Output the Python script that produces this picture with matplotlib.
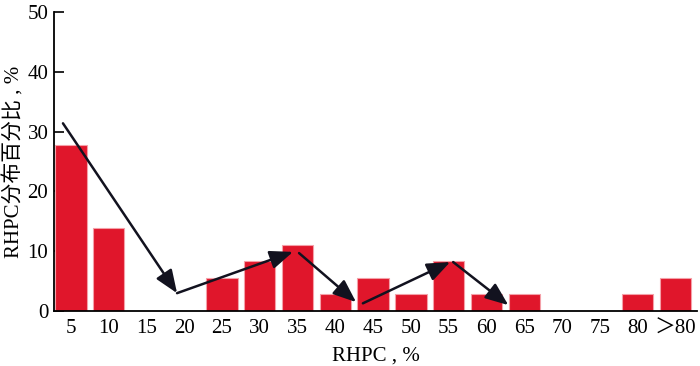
import matplotlib
matplotlib.use("Agg")
import matplotlib.pyplot as plt
import numpy as np

categories = ["5", "10", "15", "20", "25", "30", "35", "40", "45", "50",
              "55", "60", "65", "70", "75", "80", "＞80"]
counts = [10, 5, 0, 0, 2, 3, 4, 1, 2, 1, 3, 1, 1, 0, 0, 1, 2]
percent = [c / 36 * 100 for c in counts]

# trend arrows (x in category index, y in %)
arrows = [
    ((-0.21, 31.4), (2.81, 3.0)),
    ((2.81, 3.0), (5.88, 9.9)),
    ((6.04, 9.7), (7.55, 1.5)),
    ((7.73, 1.3), (10.04, 8.2)),
    ((10.12, 8.2), (11.58, 1.0)),
]

plt.rcParams['font.family'] = ['Liberation Serif', 'Noto Sans CJK SC']

fig = plt.figure(figsize=(7, 3.66), dpi=100)
ax = fig.add_axes([0.077, 0.150, 0.919, 0.817])

x = np.arange(len(categories))
ax.bar(x, percent, width=0.83, color='#e0162b', edgecolor='#f4a0a8', linewidth=0.8, zorder=2)

for (x0, y0), (x1, y1) in arrows:
    ax.annotate("", xy=(x1, y1), xytext=(x0, y0),
                arrowprops=dict(arrowstyle='-|>,head_length=1.0,head_width=0.4',
                                color='#12121f', lw=1.8, shrinkA=0, shrinkB=0,
                                mutation_scale=14), zorder=3)

ax.set_xlim(-0.45, 16.58)
ax.set_ylim(0, 50)
ax.set_xticks(x)
ax.set_xticklabels(categories)
ax.set_yticks([0, 10, 20, 30, 40, 50])
ax.tick_params(axis='x', length=0, labelsize=15, pad=6)
ax.tick_params(axis='y', direction='in', length=7, width=1.2, labelsize=15, pad=4)
for s in ['top', 'right']:
    ax.spines[s].set_visible(False)
ax.spines['left'].set_linewidth(1.3)
ax.spines['bottom'].set_linewidth(1.3)

ax.set_xlabel("RHPC , %", fontsize=15, labelpad=6)
ax.set_ylabel("RHPC分布百分比 , %", fontsize=15, labelpad=2)

fig.savefig("out.png", dpi=100)
